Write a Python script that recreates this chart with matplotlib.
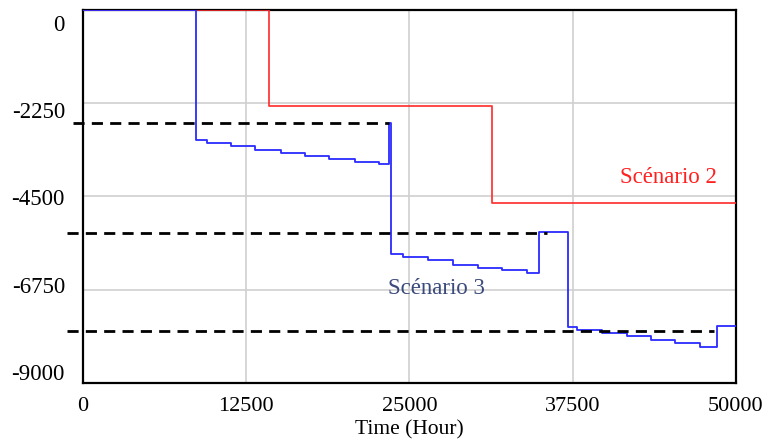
import matplotlib
matplotlib.use("Agg")
import matplotlib.pyplot as plt

plt.rcParams['font.family'] = ['Liberation Serif', 'DejaVu Serif']

# Scénario 3 (blue), step values
t_s3 = [0, 8650, 9500, 11300, 13170, 15160, 17000, 18840, 20830, 22670, 23450, 23550,
        24500, 26420, 28330, 30250, 32080, 34000, 34920, 37140,
        37830, 39740, 41650, 43490, 45330, 47240, 48550, 50000]
v_s3 = [0, -3140, -3220, -3280, -3390, -3450, -3520, -3600, -3670, -3720, -2730, -5890,
        -5970, -6040, -6150, -6220, -6280, -6350, -5360, -7660,
        -7720, -7790, -7870, -7960, -8040, -8120, -7630, -7630]

# Scénario 2 (red)
t_s2 = [0, 14250, 31300, 50000]
v_s2 = [0, -2320, -4650, -4650]

# dashed reference levels
ref_levels = [-2730, -5370, -7750]
ref_start = [-800, -1200, -1200]
ref_end = [23450, 35500, 48300]

xticks = [0, 12500, 25000, 37500, 50000]
yticks = [0, -2250, -4500, -6750, -9000]

fig = plt.figure(figsize=(7.65, 4.44), dpi=100)
ax = fig.add_axes([0.1085, 0.1374, 0.8535, 0.8401])

ax.step(t_s2, v_s2, where='post', color='#ff2a2a', lw=1.2, zorder=3)
ax.step(t_s3, v_s3, where='post', color='#2a2aff', lw=1.3, zorder=4)

for lvl, a, b in zip(ref_levels, ref_start, ref_end):
    ax.plot([a, b], [lvl, lvl], color='black', lw=2.0, dashes=(4.0, 2.6),
            clip_on=False, zorder=5)

ax.text(44800, -4050, 'Scénario 2', color='#ff2020', fontsize=16.5,
        ha='center', va='center')
ax.text(27100, -6710, 'Scénario 3', color='#3b4a7c', fontsize=16.5,
        ha='center', va='center')

ax.set_xlim(0, 50000)
ax.set_ylim(-9000, 0)
ax.set_xticks(xticks)
ax.set_yticks(yticks)
ax.set_yticklabels([])
ax.grid(True, color='#cfcfcf', lw=1.2)
ax.set_axisbelow(True)
ax.tick_params(axis='both', length=0)
ax.tick_params(axis='x', pad=10, labelsize=16)
for s in ax.spines.values():
    s.set_linewidth(1.6)
    s.set_color('black')
ax.set_xlabel('Time (Hour)', fontsize=15.5, labelpad=3)

# y labels sit on a slightly compressed scale, as in the original
ax2 = ax.twinx()
ax2.set_ylim(-9284, 335)
ax2.set_yticks(yticks)
ax2.set_yticklabels([str(v) for v in yticks])
ax2.yaxis.set_ticks_position('left')
ax2.tick_params(axis='y', length=0, pad=13, labelsize=16.5)
for s in ax2.spines.values():
    s.set_visible(False)

fig.savefig('out.png', dpi=100)
